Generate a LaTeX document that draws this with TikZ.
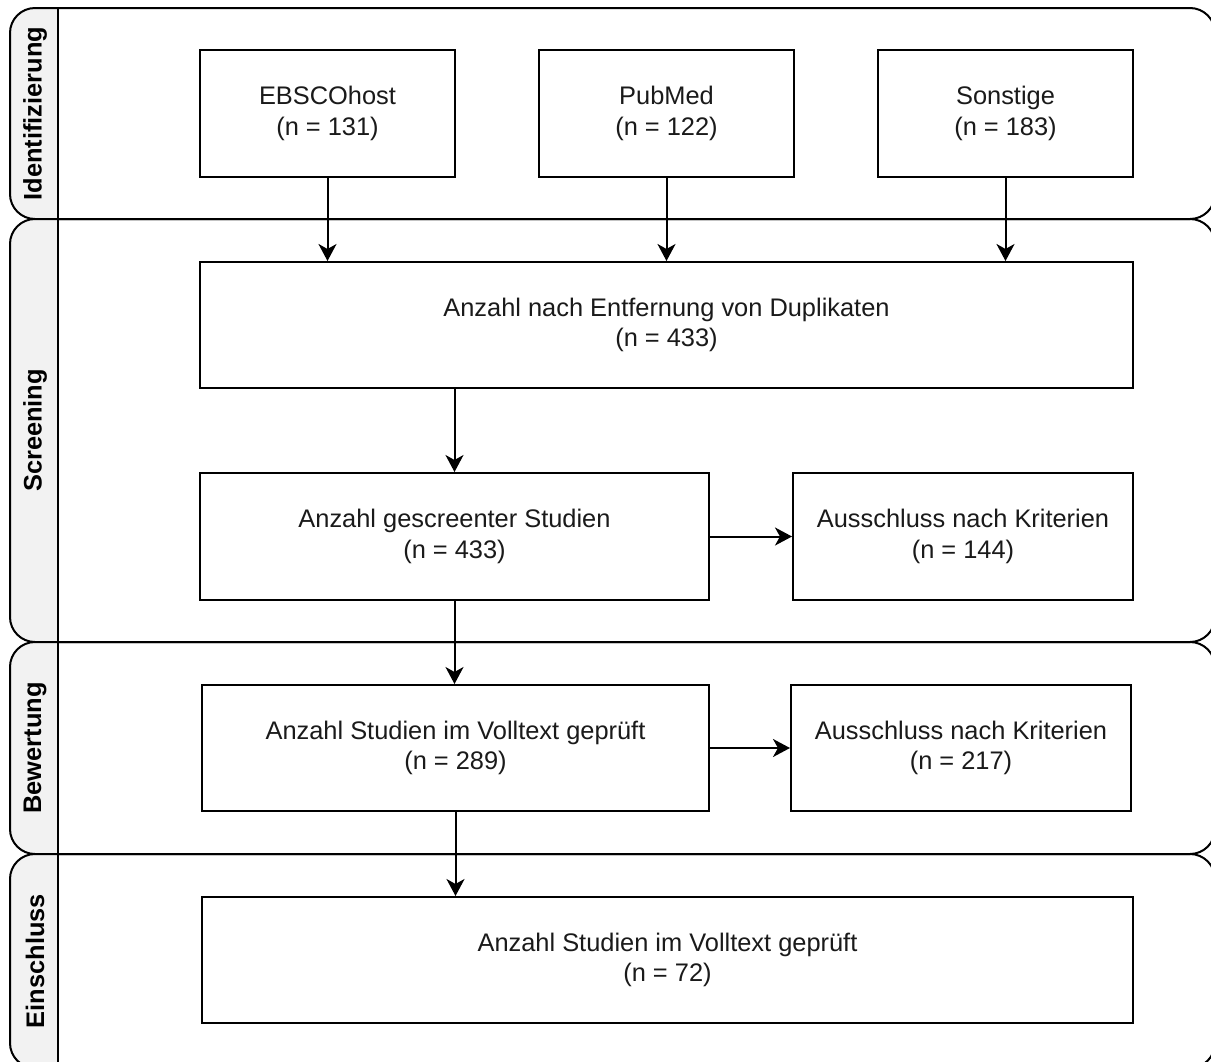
\documentclass[tikz,border=0pt]{standalone}
\usepackage{fontspec}
\setmainfont{Liberation Sans}
\usetikzlibrary{arrows.meta}
\definecolor{headfill}{HTML}{F2F2F2}
\definecolor{txt}{HTML}{1A1A1A}
\tikzset{
  box/.style={draw=black, line width=2pt, fill=white, inner sep=0pt, align=center,
    text=txt, font=\fontsize{25.4}{30.5}\selectfont},
  lanelbl/.style={rotate=90, inner sep=0pt, text=black,
    font=\fontsize{25.4}{30.5}\selectfont\bfseries},
  arr/.style={line width=2pt, -{Stealth[length=17pt,width=18pt,inset=5pt]}},
}
\newcommand{\lanedraw}[4]{%
  \begin{scope}
    \clip[rounded corners=25pt] (10,-#1) rectangle (1215,-#2);
    \fill[headfill] (10,-#1) rectangle (58,-#2);
  \end{scope}
  \draw[line width=2pt, rounded corners=25pt] (10,-#1) rectangle (1215,-#2);
  \draw[line width=2pt] (58,-#1) -- (58,-#2);
  \node[lanelbl] (#4) at (35,{-(#1+#2)/2}) {#3};
}
\begin{document}
\begin{tikzpicture}[x=1pt,y=1pt]
\useasboundingbox (0,0) rectangle (1211,-1061);
\clip (0,0) rectangle (1211,-1061);
\fill[white] (0,0) rectangle (1211,-1061);
% lanes
\lanedraw{8}{219}{Identifizierung}{l1}
\lanedraw{219}{642}{Screening}{l2}
\lanedraw{642}{854}{Bewertung}{l3}
\lanedraw{854}{1068}{Einschluss}{l4}
% boxes
\node[box, minimum width=255pt, minimum height=127pt] (ebsco) at (327.5,-113.5) {EBSCOhost\\(n = 131)};
\node[box, minimum width=255pt, minimum height=127pt] (pubmed) at (666.5,-113.5) {PubMed\\(n = 122)};
\node[box, minimum width=255pt, minimum height=127pt] (sonst) at (1005.5,-113.5) {Sonstige\\(n = 183)};
\node[box, minimum width=933pt, minimum height=126pt] (dup) at (666.5,-325) {Anzahl nach Entfernung von Duplikaten\\(n = 433)};
\node[box, minimum width=509pt, minimum height=127pt] (screen) at (454.5,-536.5) {Anzahl gescreenter Studien\\(n = 433)};
\node[box, minimum width=340pt, minimum height=127pt] (aus1) at (963,-536.5) {Ausschluss nach Kriterien\\(n = 144)};
\node[box, minimum width=507pt, minimum height=126pt] (voll) at (455.5,-748) {Anzahl Studien im Volltext geprüft\\(n = 289)};
\node[box, minimum width=340pt, minimum height=126pt] (aus2) at (961,-748) {Ausschluss nach Kriterien\\(n = 217)};
\node[box, minimum width=931pt, minimum height=126pt] (ein) at (667.5,-960) {Anzahl Studien im Volltext geprüft\\(n = 72)};
% connectors
\draw[arr] (ebsco.south) -- (ebsco.south |- dup.north);
\draw[arr] (pubmed.south) -- (pubmed.south |- dup.north);
\draw[arr] (sonst.south) -- (sonst.south |- dup.north);
\draw[arr] (dup.south -| screen.north) -- (screen.north);
\draw[arr] (screen.east) -- (aus1.west);
\draw[arr] (screen.south) -- (screen.south |- voll.north);
\draw[arr] (voll.east) -- (aus2.west);
\draw[arr] (voll.south) -- (voll.south |- ein.north);
\end{tikzpicture}
\end{document}
